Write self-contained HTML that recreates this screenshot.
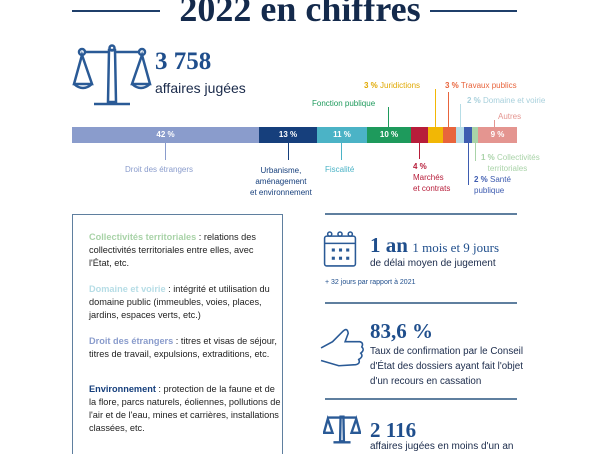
<!DOCTYPE html>
<html><head><meta charset="utf-8"><style>
body{margin:0;width:600px;height:450px;overflow:hidden;background:#fff;position:relative;font-family:"Liberation Sans",sans-serif;}
.a{position:absolute;white-space:nowrap}
.s{font-family:"Liberation Serif",serif;font-weight:bold}
.l{font-size:8px}
.seg{position:absolute;top:127px;height:16px;color:#fff;font-size:8px;font-weight:bold;text-align:center;line-height:16px}
.v{position:absolute;width:1px}
.h{position:absolute;height:1px}
.bp{position:absolute;left:89px;white-space:nowrap;font-family:"Liberation Sans Narrow","Liberation Sans",sans-serif;font-size:9.2px;line-height:13px;color:#222}
.rl{position:absolute;left:325px;width:192px;height:2px;background:#5f7f9f}
</style></head><body>
<div class="h" style="left:72px;top:10px;width:88px;height:2px;background:#1f3f6a"></div>
<div class="h" style="left:430px;top:10px;width:87px;height:2px;background:#1f3f6a"></div>
<div class="a s" style="left:0;width:600px;text-align:center;top:-12px;font-size:36px;color:#142a4c">2022 en chiffres</div>

<svg class="a" style="left:72px;top:44px" width="80" height="64" viewBox="0 0 80 64" fill="none" stroke="#2a5a96" stroke-width="2.5">
<circle cx="40" cy="4" r="2.5"/><path d="M37 6 L36 58 L44 58 L43 6 Z"/><circle cx="10" cy="8" r="3"/><circle cx="70" cy="8" r="3"/>
<path d="M13 8 H37 M43 8 H67"/><path d="M10 11 L2 40 H20 Z M70 11 L60 40 H78 Z"/><path d="M2 40 Q11 48 20 40 M60 40 Q69 48 78 40"/><path d="M22 60 H58"/></svg>
<div class="a s" style="left:155px;top:48px;font-size:25px;color:#1f4e8c">3 758</div>
<div class="a" style="left:155px;top:80px;font-size:14px;color:#1a2a4a">affaires jugées</div>

<div class="seg" style="left:72px;width:187px;background:#8a9ccc">42 %</div>
<div class="seg" style="left:259px;width:58px;background:#163f7c">13 %</div>
<div class="seg" style="left:317px;width:50px;background:#4bb3c6">11 %</div>
<div class="seg" style="left:367px;width:44px;background:#1e9a5c">10 %</div>
<div class="seg" style="left:411px;width:17px;background:#b71d3a"></div>
<div class="seg" style="left:428px;width:15px;background:#f2b705"></div>
<div class="seg" style="left:443px;width:13px;background:#e8643c"></div>
<div class="seg" style="left:456px;width:8px;background:#b6dde6"></div>
<div class="seg" style="left:464px;width:8px;background:#3e5cb0"></div>
<div class="seg" style="left:472px;width:6px;background:#a9d3a8"></div>
<div class="seg" style="left:478px;width:39px;background:#e49590">9 %</div>

<div class="v" style="left:165px;top:143px;height:17px;background:#8a9ccc"></div>
<div class="v" style="left:288px;top:143px;height:17px;background:#163f7c"></div>
<div class="v" style="left:341px;top:143px;height:17px;background:#4bb3c6"></div>
<div class="v" style="left:419px;top:143px;height:16px;background:#b71d3a"></div>
<div class="v" style="left:468px;top:143px;height:42px;background:#3e5cb0"></div>
<div class="v" style="left:475px;top:143px;height:18px;background:#a9d3a8"></div>
<div class="v" style="left:388px;top:107px;height:20px;background:#1e9a5c"></div>
<div class="v" style="left:435px;top:89px;height:38px;background:#f2b705"></div>
<div class="v" style="left:448px;top:92px;height:35px;background:#e8643c"></div>
<div class="v" style="left:460px;top:104px;height:23px;background:#b6dde6"></div>
<div class="v" style="left:494px;top:120px;height:7px;background:#e49590"></div>

<div class="a l" style="left:125px;top:165px;color:#8a9ccc">Droit des étrangers</div>
<div class="a l" style="left:250px;top:165px;color:#163f7c;text-align:center;line-height:11px">Urbanisme,<br>aménagement<br>et environnement</div>
<div class="a l" style="left:325px;top:165px;color:#4bb3c6">Fiscalité</div>
<div class="a l" style="left:413px;top:161px;color:#b71d3a;line-height:11px"><b>4 %</b><br>Marchés<br>et contrats</div>
<div class="a l" style="left:481px;top:152px;color:#a9d3a8;line-height:11px"><b>1 %</b> Collectivités<br>&nbsp;&nbsp;&nbsp;territoriales</div>
<div class="a l" style="left:474px;top:174px;color:#3e5cb0;line-height:11px"><b>2 %</b> Santé<br>publique</div>
<div class="a l" style="left:312px;top:99px;color:#1e9a5c">Fonction publique</div>
<div class="a l" style="left:364px;top:81px;color:#e0a800"><b>3 %</b> Juridictions</div>
<div class="a l" style="left:445px;top:81px;color:#e8643c"><b>3 %</b> Travaux publics</div>
<div class="a l" style="left:467px;top:96px;color:#a8d0dc"><b>2 %</b> Domaine et voirie</div>
<div class="a l" style="left:498px;top:112px;color:#e49590">Autres</div>

<div class="a" style="left:72px;top:214px;width:211px;height:240px;border:1.5px solid #5f7f9f;border-bottom:none;box-sizing:border-box"></div>
<div class="bp" style="top:231px"><b style="color:#a9d3a8">Collectivités territoriales</b> : relations des<br>collectivités territoriales entre elles, avec<br>l'État, etc.</div>
<div class="bp" style="top:283px"><b style="color:#b6dde6">Domaine et voirie</b> : intégrité et utilisation du<br>domaine public (immeubles, voies, places,<br>jardins, espaces verts, etc.)</div>
<div class="bp" style="top:335px"><b style="color:#8a9ccc">Droit des étrangers</b> : titres et visas de séjour,<br>titres de travail, expulsions, extraditions, etc.</div>
<div class="bp" style="top:383px"><b style="color:#163f7c">Environnement</b> : protection de la faune et de<br>la flore, parcs naturels, éoliennes, pollutions de<br>l'air et de l'eau, mines et carrières, installations<br>classées, etc.</div>

<div class="rl" style="top:213px"></div>
<div class="rl" style="top:302px"></div>
<div class="rl" style="top:398px"></div>

<svg class="a" style="left:323px;top:231px" width="34" height="37" viewBox="0 0 32 36" fill="none" stroke="#2a5a96" stroke-width="1.5">
<rect x="1" y="5" width="30" height="29" rx="2"/><path d="M1 12 H31"/><circle cx="6" cy="3" r="2"/><circle cx="16" cy="3" r="2"/><circle cx="26" cy="3" r="2"/>
<g fill="#2a5a96" stroke="none"><rect x="8" y="17" width="3" height="3"/><rect x="15" y="17" width="3" height="3"/><rect x="22" y="17" width="3" height="3"/><rect x="8" y="25" width="3" height="3"/><rect x="15" y="25" width="3" height="3"/><rect x="22" y="25" width="3" height="3"/></g></svg>
<div class="a" style="left:370px;top:233px;color:#1f4e8c"><span class="s" style="font-size:21px">1 an</span> <span style="font-family:'Liberation Serif',serif;font-size:13px">1 mois et 9 jours</span></div>
<div class="a" style="left:370px;top:258px;font-size:10px;color:#1a2a4a">de délai moyen de jugement</div>
<div class="a" style="left:325px;top:279px;font-size:7px;color:#1f4e8c">+ 32 jours par rapport à 2021</div>

<svg class="a" style="left:320px;top:324px" width="46" height="50" viewBox="0 0 44 46" fill="none" stroke="#2a5a96" stroke-width="1.5">
<path d="M1 22 L12 16 L22 6 Q26 2 27 8 L24 16 L38 16 Q42 17 40 21 Q43 24 39 27 Q42 30 37 33 Q39 37 34 38 L18 39 L1 34"/></svg>
<div class="a s" style="left:370px;top:319px;font-size:21px;color:#1f4e8c">83,6 %</div>
<div class="a" style="left:370px;top:344px;font-size:9.8px;line-height:15px;color:#1a2a4a">Taux de confirmation par le Conseil<br>d'État des dossiers ayant fait l'objet<br>d'un recours en cassation</div>

<svg class="a" style="left:323px;top:411px" width="38" height="36" viewBox="0 0 80 64" fill="none" stroke="#2a5a96" stroke-width="5">
<path d="M37 6 L36 58 L44 58 L43 6 Z"/><path d="M10 8 H70"/><path d="M10 11 L2 40 H20 Z M70 11 L60 40 H78 Z"/><path d="M22 60 H58"/></svg>
<div class="a s" style="left:370px;top:418px;font-size:21px;color:#1f4e8c">2 116</div>
<div class="a" style="left:370px;top:441px;font-size:10px;color:#1a2a4a">affaires jugées en moins d'un an</div>
</body></html>
